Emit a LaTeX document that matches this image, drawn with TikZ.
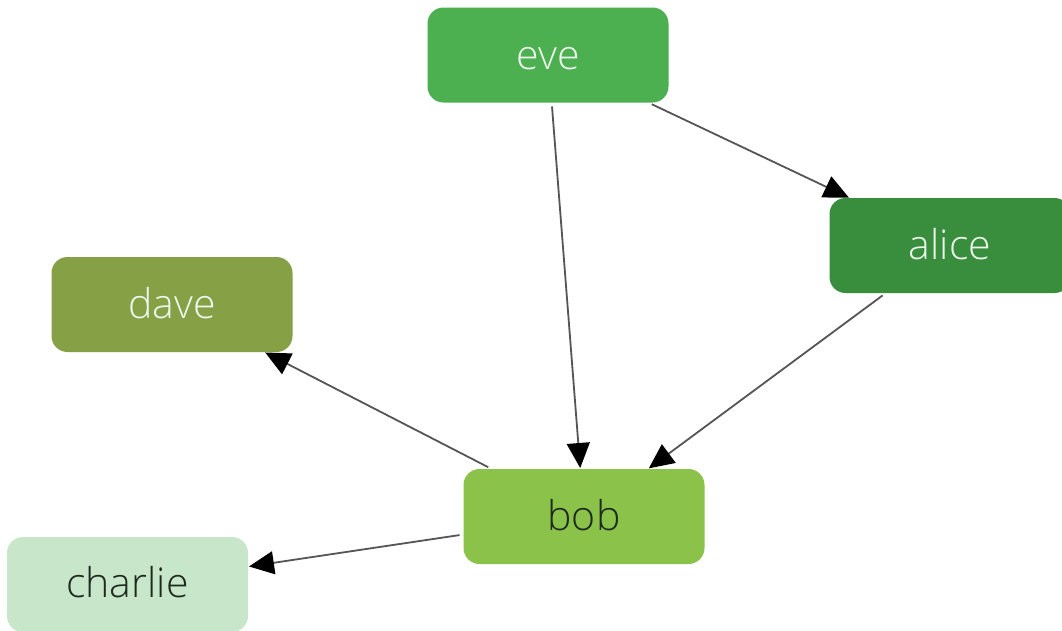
\documentclass[tikz,border=0pt]{standalone}
\usepackage{fontspec}
\IfFontExistsTF{Open Sans Light}{\setmainfont{Open Sans Light}}{\setmainfont{Open Sans}}
\usetikzlibrary{arrows.meta}
\definecolor{ceve}{HTML}{4CAF50}
\definecolor{calice}{HTML}{388E3C}
\definecolor{cdave}{HTML}{86A046}
\definecolor{cbob}{HTML}{8BC34A}
\definecolor{ccharlie}{HTML}{C8E6C9}
\definecolor{cdark}{HTML}{1E2A1E}
\definecolor{cline}{HTML}{555555}
\definecolor{clight}{HTML}{EEF7EE}
\newcommand{\lowtext}[2]{\raisebox{-#1pt}{#2}}
\tikzset{
  box/.style={rectangle, rounded corners=16pt, minimum width=241pt, minimum height=95pt,
    inner sep=0pt, outer sep=0pt, text height=0pt, text depth=0pt,
    font=\fontsize{41}{45}\selectfont},
  lighttext/.style={text=clight},
  darktext/.style={text=cdark},
  edge/.style={draw=cline, line width=1.8pt, shorten <=4pt, shorten >=1pt,
    -{Triangle[length=25pt,width=23pt]}, arrows={[color=black]}}
}
\begin{document}
\begin{tikzpicture}[x=1pt,y=-1pt]
\clip (0,0) rectangle (1062,630);
\fill[white] (0,0) rectangle (1062,630);
\node[box, fill=ceve, lighttext] (eve) at (548,55) {\lowtext{14.5}{eve}};
\node[box, fill=calice, lighttext] (alice) at (950,245.5) {\lowtext{13.5}{alice}};
\node[box, fill=cdave, lighttext] (dave) at (172,304.5) {\lowtext{13.5}{dave}};
\node[box, fill=cbob, darktext] (bob) at (584,516.5) {\lowtext{13.5}{bob}};
\node[box, fill=ccharlie, darktext] (charlie) at (127.5,584.5) {\lowtext{12.5}{charlie}};
\draw[edge] (eve) -- (bob);
\draw[edge] (eve) -- (alice);
\draw[edge] (alice) -- (bob);
\draw[edge] (bob) -- (dave);
\draw[edge] (bob) -- (charlie);
\end{tikzpicture}
\end{document}
